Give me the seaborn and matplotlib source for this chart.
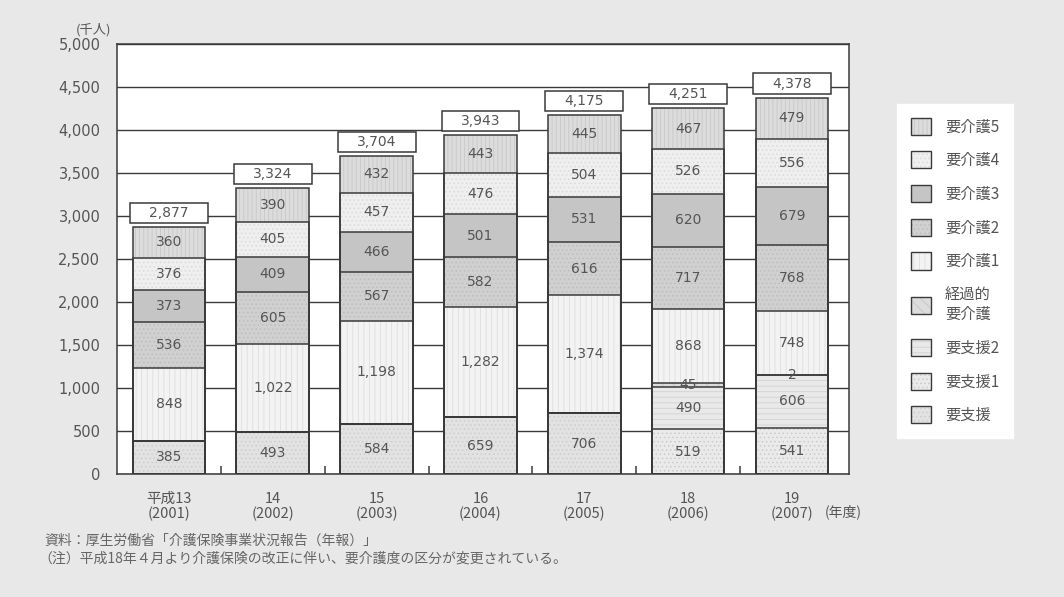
import matplotlib
matplotlib.use("Agg")
import matplotlib.pyplot as plt
from matplotlib.patches import Patch, Rectangle
from matplotlib.legend_handler import HandlerTuple
import numpy as np
import pandas as pd
import seaborn as sns

# ---- data (千人) ----
years = ["平成13\n(2001)", "14\n(2002)", "15\n(2003)", "16\n(2004)",
         "17\n(2005)", "18\n(2006)", "19\n(2007)"]
categories = ["要支援", "要支援1", "要支援2", "経過的\n要介護",
              "要介護1", "要介護2", "要介護3", "要介護4", "要介護5"]
youshien = [385, 493, 584, 659, 706, 0, 0]
youshien1 = [0, 0, 0, 0, 0, 519, 541]
youshien2 = [0, 0, 0, 0, 0, 490, 606]
keikateki = [0, 0, 0, 0, 0, 45, 2]
kaigo1 = [848, 1022, 1198, 1282, 1374, 868, 748]
kaigo2 = [536, 605, 567, 582, 616, 717, 768]
kaigo3 = [373, 409, 466, 501, 531, 620, 679]
kaigo4 = [376, 405, 457, 476, 504, 526, 556]
kaigo5 = [360, 390, 432, 443, 445, 467, 479]
totals = [2877, 3324, 3704, 3943, 4175, 4251, 4378]
yticks = [0, 500, 1000, 1500, 2000, 2500, 3000, 3500, 4000, 4500, 5000]

series = [youshien, youshien1, youshien2, keikateki,
          kaigo1, kaigo2, kaigo3, kaigo4, kaigo5]

# fill / hatch per category (bottom to top)
styles = {
    "要支援":        dict(fc="#e2e2e2", hatch="....", hc="#cdcdcd"),
    "要支援1":       dict(fc="#eaeaea", hatch="....", hc="#cbcbcb"),
    "要支援2":       dict(fc="#e9e9e9", hatch="---", hc="#d2d2d2"),
    "経過的\n要介護": dict(fc="#dcdcdc", hatch="\\\\\\", hc="#c4c4c4"),
    "要介護1":       dict(fc="#f3f3f3", hatch="|||", hc="#dedede"),
    "要介護2":       dict(fc="#d0d0d0", hatch="....", hc="#bdbdbd"),
    "要介護3":       dict(fc="#c5c5c5", hatch="", hc="#c5c5c5"),
    "要介護4":       dict(fc="#efefef", hatch="....", hc="#dadada"),
    "要介護5":       dict(fc="#dcdcdc", hatch="||||", hc="#c8c8c8"),
}

sns.set_theme(style="white")
plt.rcParams["font.family"] = ["Noto Sans CJK JP", "DejaVu Sans"]
plt.rcParams["hatch.linewidth"] = 0.6

bg = "#e8e8e8"
txt = "#555555"
line = "#3a3a3a"

fig = plt.figure(figsize=(10.64, 5.97), dpi=100, facecolor=bg)
ax = fig.add_axes([0.110, 0.206, 0.688, 0.720])
ax.set_facecolor("white")

# cumulative tops
arr = np.array(series, dtype=float)
tops = np.cumsum(arr, axis=0)
bottoms = tops - arr

bar_w = 0.70

# filled layers: draw tallest (top category) first, lower ones overlap it
for k in range(len(categories) - 1, -1, -1):
    st = styles[categories[k]]
    df = pd.DataFrame({"year": years, "top": tops[k]})
    sns.barplot(data=df, x="year", y="top", order=years, color=st["fc"],
                width=bar_w, saturation=1, hatch=st["hatch"],
                edgecolor=st["hc"], linewidth=0, ax=ax, zorder=2)

# outlines of every segment boundary
for k in range(len(categories) - 1, -1, -1):
    df = pd.DataFrame({"year": years, "top": tops[k]})
    sns.barplot(data=df, x="year", y="top", order=years, fill=False,
                color=line, width=bar_w, linewidth=1.1, ax=ax, zorder=3)

# segment labels
for k in range(len(categories)):
    for i in range(len(years)):
        v = arr[k, i]
        if v <= 0:
            continue
        ax.text(i, bottoms[k, i] + v / 2, f"{int(v):,}", ha="center",
                va="center", fontsize=10, color=txt, zorder=5,
                family=["DejaVu Sans"])

# total boxes above each bar
box_w = 0.75
for i, t in enumerate(totals):
    y0 = tops[-1, i] + 47
    ax.add_patch(Rectangle((i - box_w / 2, y0), box_w, 233, facecolor="white",
                           edgecolor=line, linewidth=1.1, zorder=4))
    ax.text(i, y0 + 116, f"{t:,}", ha="center", va="center", fontsize=10,
            color=txt, zorder=5, family=["DejaVu Sans"])

# axes
ax.set_ylim(0, 5000)
ax.set_xlim(-0.5, 6.55)
ax.set_yticks(yticks)
ax.set_yticklabels([f"{v:,}" for v in yticks], fontsize=10.5, color=txt,
                   family=["DejaVu Sans"])
ax.yaxis.grid(True, color=line, linewidth=1.0)
ax.set_axisbelow(True)
ax.tick_params(axis="y", length=0, pad=12)
ax.set_xticks(range(len(years)))
ax.set_xticklabels(years, fontsize=10.5, color=txt, linespacing=1.05)
ax.tick_params(axis="x", length=0, pad=13)
ax.set_xticks(np.arange(0.5, len(years) - 1, 1.0), minor=True)
ax.tick_params(axis="x", which="minor", direction="in", length=6,
               width=1.1, color=line, bottom=True)
ax.set_xlabel("")
ax.set_ylabel("")
for s in ax.spines.values():
    s.set_visible(True)
    s.set_color(line)
    s.set_linewidth(1.1)

fig.text(0.088, 0.950, "(千人)", fontsize=9.5, color=txt, ha="center",
         va="center")
fig.text(0.775, 0.142, "(年度)", fontsize=10, color=txt, ha="left",
         va="center")

# legend (top category first): textured fill + dark outline per entry
handles = []
labels = []
for c in reversed(categories):
    st = styles[c]
    fill = Patch(facecolor=st["fc"], hatch=st["hatch"], edgecolor=st["hc"],
                 linewidth=0)
    edge = Patch(facecolor="none", edgecolor=line, linewidth=1.0)
    handles.append((fill, edge))
    labels.append(c)
leg = fig.legend(handles=handles, labels=labels,
                 handler_map={tuple: HandlerTuple(ndivide=1, pad=0)},
                 loc="upper left",
                 bbox_to_anchor=(0.843, 0.826), bbox_transform=fig.transFigure,
                 frameon=True, fancybox=False, framealpha=1, fontsize=11,
                 handlelength=1.35, handleheight=1.35, labelspacing=1.05,
                 handletextpad=0.9, borderpad=0.9, borderaxespad=0)
leg.get_frame().set_facecolor("white")
leg.get_frame().set_edgecolor("white")
for t in leg.get_texts():
    t.set_color(txt)

# source / note
fig.text(0.042, 0.094, "資料：厚生労働省「介護保険事業状況報告（年報）」",
         fontsize=10, color="#666666", ha="left", va="center")
fig.text(0.036, 0.065,
         "（注）平成18年４月より介護保険の改正に伴い、要介護度の区分が変更されている。",
         fontsize=10, color="#666666", ha="left", va="center")

fig.savefig("out.png", dpi=100, facecolor=bg)
